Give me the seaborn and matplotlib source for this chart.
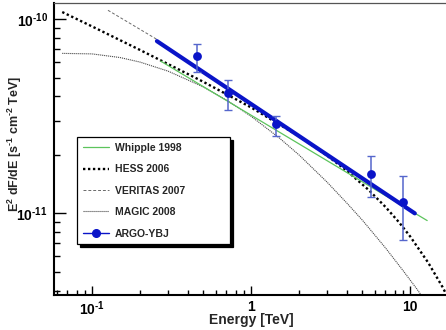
import matplotlib
matplotlib.use("Agg")
import matplotlib.pyplot as plt
from matplotlib.lines import Line2D
from matplotlib.ticker import FixedLocator, FixedFormatter, LogLocator, NullFormatter
import numpy as np
import pandas as pd
import seaborn as sns

# ---- spectra: E [TeV] and E^2 dF/dE [s^-1 cm^-2 TeV] ----
whipple_e = [0.27, 12.8]
whipple_f = [6.08e-11, 9.18e-12]

hess_e = [0.065, 0.1, 0.2, 0.5, 1.0, 2.0, 3.0, 4.0, 5.5, 7.0, 8.5, 10.0, 13.0, 16.0, 19.0]
hess_f = [1.087e-10, 9.17e-11, 6.94e-11, 4.76e-11, 3.51e-11, 2.495e-11, 1.986e-11,
          1.656e-11, 1.317e-11, 1.079e-11, 9.01e-12, 7.61e-12, 5.57e-12, 4.17e-12, 3.16e-12]

veritas_e = [0.126, 0.26]
veritas_f = [1.11e-10, 7.8e-11]

magic_e = [0.065, 0.1, 0.15, 0.2, 0.3, 0.5, 0.7, 1.0, 1.5, 2.0, 3.0, 4.0, 5.0, 7.0, 9.0, 11.0, 13.0, 15.0]
magic_f = [6.66e-11, 6.62e-11, 6.34e-11, 6.01e-11, 5.40e-11, 4.48e-11, 3.83e-11, 3.16e-11,
           2.45e-11, 2.00e-11, 1.45e-11, 1.13e-11, 9.24e-12, 6.64e-12, 5.09e-12, 4.09e-12,
           3.37e-12, 2.85e-12]

argo_fit_e = [0.256, 10.7]
argo_fit_f = [7.7e-11, 1.0e-11]

argo_e = [0.455, 0.714, 1.44, 5.69, 9.0]
argo_f = [6.44e-11, 4.14e-11, 2.87e-11, 1.59e-11, 1.14e-11]
argo_hi = [7.43e-11, 4.85e-11, 3.16e-11, 1.97e-11, 1.56e-11]
argo_lo = [5.35e-11, 3.40e-11, 2.49e-11, 1.21e-11, 7.26e-12]

legend_labels = ["Whipple 1998", "HESS 2006", "VERITAS 2007", "MAGIC 2008", "ARGO-YBJ"]
HY = "\u2010"  # short hyphen for exponents
x_tick_labels = [r"10$^{%s1}$" % HY, "1", "10"]
y_tick_labels = [r"10$^{%s11}$" % HY, r"10$^{%s10}$" % HY]

sns.set_theme(style="ticks")
plt.rcParams["font.family"] = ["Liberation Sans", "DejaVu Sans"]
plt.rcParams["font.weight"] = "bold"
plt.rcParams["mathtext.fontset"] = "custom"
plt.rcParams["mathtext.rm"] = "Liberation Sans:bold"
plt.rcParams["mathtext.bf"] = "Liberation Sans:bold"
plt.rcParams["mathtext.it"] = "Liberation Sans:bold"
plt.rcParams["mathtext.default"] = "rm"

fig = plt.figure(figsize=(4.46, 3.30), dpi=100)
ax = fig.add_axes([54 / 446, 35 / 330, 394 / 446, 292 / 330])
ax.set_xscale("log")
ax.set_yscale("log")

GREEN = "#5cc45c"
BLUE = "#0a14c8"
ERRC = "#5566cc"
whipple_style = dict(color=GREEN, lw=0.9)
hess_style = dict(color="black", lw=1.7, ls=(0, (1, 1.1)))
veritas_style = dict(color="#6a6a6a", lw=0.7, ls=(0, (3, 2)))
magic_style = dict(color="#4a4a4a", lw=0.8, ls=(0, (1, 0.8)))

def curve(e, f, **kw):
    df = pd.DataFrame({"E": e, "F": f})
    sns.lineplot(data=df, x="E", y="F", ax=ax, sort=False, estimator=None, **kw)

curve(magic_e, magic_f, **magic_style)
curve(veritas_e, veritas_f, **veritas_style)
curve(hess_e, hess_f, **hess_style)
curve(whipple_e, whipple_f, **whipple_style)
curve(argo_fit_e, argo_fit_f, color=BLUE, lw=3.0)

# ARGO-YBJ measured points with asymmetric errors
yerr = [np.array(argo_f) - np.array(argo_lo), np.array(argo_hi) - np.array(argo_f)]
ax.errorbar(argo_e, argo_f, yerr=yerr, fmt="none", ecolor=ERRC, elinewidth=1.1,
            capsize=2.6, capthick=1.0, zorder=4)
sns.scatterplot(x=argo_e, y=argo_f, ax=ax, color=BLUE, s=40, edgecolor=BLUE,
                linewidth=0, zorder=5)

ax.set_xlim(0.0577, 17.3)
ax.set_ylim(3.8e-12, 1.21e-10)

# axes frame
for side in ("left", "bottom"):
    ax.spines[side].set_color("black")
    ax.spines[side].set_linewidth(1.5)
ax.spines["top"].set_color("#555555")
ax.spines["top"].set_linewidth(0.9)
ax.spines["right"].set_visible(False)

ax.xaxis.set_major_locator(FixedLocator([0.1, 1, 10]))
ax.xaxis.set_major_formatter(FixedFormatter(x_tick_labels))
ax.xaxis.set_minor_locator(LogLocator(base=10, subs=np.arange(2, 10)))
ax.xaxis.set_minor_formatter(NullFormatter())
ax.yaxis.set_major_locator(FixedLocator([1e-11, 1e-10]))
ax.yaxis.set_major_formatter(FixedFormatter(y_tick_labels))
ax.yaxis.set_minor_locator(LogLocator(base=10, subs=np.arange(2, 10)))
ax.yaxis.set_minor_formatter(NullFormatter())

ax.tick_params(axis="both", which="both", direction="in", colors="black",
               top=False, right=False, labelsize=10, width=1.0)
ax.tick_params(axis="y", which="major", length=8.5, pad=4.5)
ax.tick_params(axis="y", which="minor", length=4.5)
ax.tick_params(axis="x", which="major", length=6.5, pad=3.5)
ax.tick_params(axis="x", which="minor", length=3.6)
for lab in ax.get_xticklabels() + ax.get_yticklabels():
    lab.set_fontweight("bold")

ax.set_xlabel("Energy [TeV]", fontsize=10, fontweight="bold")
ax.xaxis.set_label_coords(0.5, -0.06)
ax.set_ylabel(r"E$^{2}$ dF/dE [s$^{%s1}$ cm$^{%s2}$ TeV]" % (HY, HY),
              fontsize=9, fontweight="bold")
ax.yaxis.set_label_coords(-0.075, 0.517)

handles = [
    Line2D([], [], **whipple_style),
    Line2D([], [], **hess_style),
    Line2D([], [], **veritas_style),
    Line2D([], [], **magic_style),
    Line2D([], [], color=BLUE, lw=1.0, marker="o", markersize=5.5,
           markerfacecolor=BLUE, markeredgecolor=BLUE),
]
leg = ax.legend(handles, legend_labels, loc="upper left", mode="expand",
                bbox_to_anchor=(23 / 394, 158 / 292, 153 / 394, 0.0),
                borderaxespad=0, borderpad=0.55, labelspacing=1.1,
                handlelength=2.5, handletextpad=0.6, fontsize=7.5,
                frameon=True, fancybox=False, framealpha=1,
                shadow={"color": "black", "alpha": 1.0})
leg.get_frame().set_edgecolor("black")
leg.get_frame().set_linewidth(0.9)
for t in leg.get_texts():
    t.set_fontweight("bold")

fig.savefig("out.png", dpi=100)
